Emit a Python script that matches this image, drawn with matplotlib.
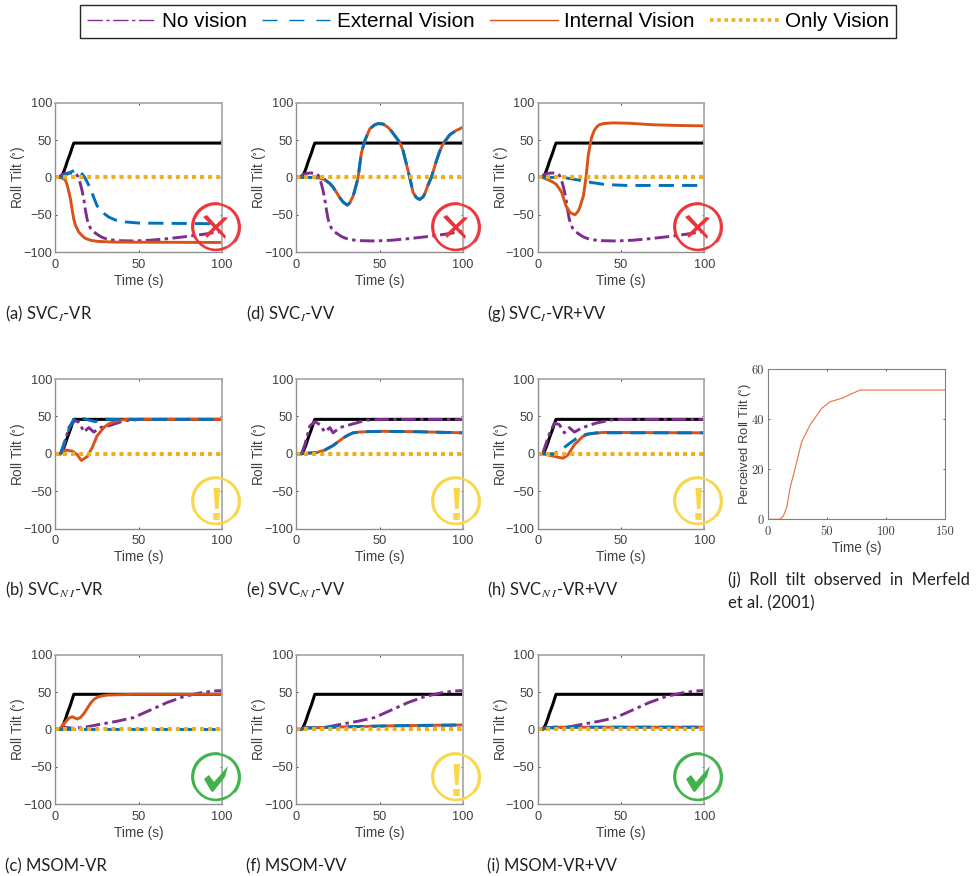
import matplotlib
matplotlib.use('Agg')
import matplotlib.pyplot as plt
from matplotlib.lines import Line2D
from matplotlib.patches import Arc, Polygon

plt.rcParams['font.family'] = ['Liberation Sans', 'DejaVu Sans']
plt.rcParams['mathtext.fontset'] = 'stix'

BLUE, ORANGE, YELLOW, PURPLE = '#0072BD', '#D95319', '#EDB120', '#7E2F8E'
TXT = '#404040'
W, H = 979, 876

# ---------- data ----------
truth_t = [0, 3, 4, 5, 6, 7, 8, 9, 10, 11, 100]
truth_v = [0, 0, 3, 8, 14, 21, 27, 33, 40, 46, 46]
only_t = [0, 100]
only_v = [0, 0]

nv_svci_t = [2, 4, 6, 9, 12, 13, 14, 15, 16, 17, 18, 19, 20, 21, 23, 25, 27, 29, 32, 37, 47, 57, 67, 79, 89, 100]
nv_svci_v = [0, 4, 5.5, 6, 5, 3, -2, -9, -18, -29, -44, -56, -63, -68, -73, -76, -79, -81, -83, -84.5, -85, -84, -82, -79, -76, -72]

a_ext_t = [3, 6, 9, 12, 15, 17, 19, 21, 23, 25, 27, 29, 32, 36, 42, 50, 100]
a_ext_v = [0, 3, 7, 10, 7, 2, -6, -15, -27, -38, -44, -48, -53, -57, -59.5, -61, -62]
a_int_t = [3, 5, 6, 7, 8, 9, 10, 11, 12, 14, 16, 18, 21, 25, 30, 35, 100]
a_int_v = [0, -2, -4, -10, -19, -29, -43, -56, -64, -73, -78, -81.5, -84, -85.5, -86, -86.5, -87]

d_both_t = [3, 10, 14, 17, 20, 22, 24, 26, 28, 30.5, 32, 34, 36, 37, 38, 39, 41, 44, 47, 49, 52, 55, 57, 60, 62, 64, 65, 67, 68, 70, 72, 74, 76, 77, 79, 81, 84, 86, 88, 92, 96, 100]
d_both_v = [0, 0, -1, -3, -8, -13, -20, -27, -33, -37, -34, -25, -9, 0, 17, 33, 49, 65, 70.5, 72, 71.5, 67, 62, 53, 47, 36, 27, 9, 0, -20, -27, -29.5, -26, -22, -10, 0, 22, 35, 45, 57, 63, 67]

g_int_t = [3, 6, 9, 11, 13, 14.4, 16, 17, 19.4, 22.4, 24, 25, 26, 27.4, 28.2, 29, 30.4, 31.5, 32.4, 34, 35.4, 37, 39.4, 45, 55, 69, 85, 100]
g_int_v = [0, -3, -6, -9, -15, -20, -31, -38, -47, -50, -46, -42, -35, -25, -13, 0, 30, 44, 54, 63, 67.5, 70.5, 72, 73, 72.5, 70.5, 69.5, 69]
g_ext_t = [3, 15, 18, 22, 27, 33, 39, 46, 53, 100]
g_ext_v = [0, 0, -1, -2.5, -4.5, -7, -9, -10, -10.7, -10.7]

b_nv_t = [3, 5, 8, 10, 12, 13.5, 15, 17, 20, 23, 27, 33, 41, 51, 100]
b_nv_v = [0, 10, 35, 41, 44, 43, 39, 29, 35, 29, 35, 38, 44, 46, 46]
b_ext_t = [3, 5, 7, 9, 11, 14, 17, 21, 24, 28, 35, 100]
b_ext_v = [0, 13, 26, 38, 46, 49, 47, 44.5, 43, 46.5, 46, 46]
b_int_t = [3, 6, 10, 13, 15.5, 19, 22, 25, 29, 32, 35, 39, 43, 100]
b_int_v = [0, 5, 3.5, -1, -9, -4, 8, 24, 35, 40, 43, 45, 46, 46]

e_nv_t = [3, 5, 8, 11, 14, 17, 20, 22, 26, 34, 42, 52, 100]
e_nv_v = [0, 12, 37, 43, 39, 29, 35, 28, 35, 40, 45, 46, 46]
e_both_t = [3, 8, 12, 17, 22, 25, 28, 31, 34, 38, 42, 52, 72, 100]
e_both_v = [0, 1, 1.5, 5, 11, 16, 21, 25, 28, 29, 29.5, 30, 29.5, 28]

h_nv_t = [3, 6.5, 10, 13, 16, 19, 22, 27, 35, 45, 55, 100]
h_nv_v = [0, 24, 41, 39, 28, 35, 29, 35, 41, 45.5, 46, 46]
h_ext_t = [3, 10, 14, 18, 23, 29, 35, 42, 100]
h_ext_v = [0, 0, 5, 12, 20, 26, 28, 28, 28]
h_int_t = [3, 7, 11, 15, 18, 20, 22, 27, 30, 33, 39, 100]
h_int_v = [0, -2, -4, -6, -2, 5, 12, 23, 26, 27, 28.5, 28]

msom_nv_t = [2.5, 5, 11, 19, 27, 37, 47, 57, 67, 77, 87, 95, 100]
msom_nv_v = [0, 3, 1.5, 3.5, 7, 11, 16, 26, 36, 44, 49, 51.5, 52]
msom_truth_v = [0, 0, 3, 8, 14, 21, 27, 33, 40, 47, 47]
c_ext_t = [3, 100]
c_ext_v = [1, 1]
c_int_t = [2.5, 4, 6, 8, 10, 13, 15, 17, 19, 21, 23, 25, 28, 31, 47, 100]
c_int_v = [0, 5, 10, 15, 17, 14, 16, 21, 28, 35, 40, 43, 45, 46, 47, 47]
f_both_t = [3, 5, 20, 40, 60, 80, 100]
f_both_v = [0, 2, 3, 4, 5, 5.5, 6]
i_both_t = [3, 5, 10, 100]
i_both_v = [0, 2, 3, 3]

j_t = [0, 10, 13, 16, 18.6, 23, 28.5, 35.6, 45.5, 52.5, 62.4, 78, 150]
j_v = [0, 0, 1.3, 5, 12.4, 20.4, 31, 37.7, 44.4, 47, 48.4, 51.7, 51.7]

xticks = [0, 50, 100]
yticks = [-100, -50, 0, 50, 100]
jxticks = [0, 50, 100, 150]
jyticks = [0, 20, 40, 60]

legend_labels = ['No vision', 'External Vision', 'Internal Vision', 'Only Vision']
captions = {
    'a': r'(a) SVC$_{I}$-VR', 'd': r'(d) SVC$_{I}$-VV', 'g': r'(g) SVC$_{I}$-VR+VV',
    'b': r'(b) SVC$_{N\,\,I}$-VR', 'e': r'(e) SVC$_{N\,\,I}$-VV', 'h': r'(h) SVC$_{N\,\,I}$-VR+VV',
    'c': '(c) MSOM-VR', 'f': '(f) MSOM-VV', 'i': '(i) MSOM-VR+VV',
}
panels = {
    'a': ((nv_svci_t, nv_svci_v), (a_ext_t, a_ext_v), (a_int_t, a_int_v), truth_v, 'x'),
    'd': ((nv_svci_t, nv_svci_v), (d_both_t, d_both_v), (d_both_t, d_both_v), truth_v, 'x'),
    'g': ((nv_svci_t, nv_svci_v), (g_ext_t, g_ext_v), (g_int_t, g_int_v), truth_v, 'x'),
    'b': ((b_nv_t, b_nv_v), (b_ext_t, b_ext_v), (b_int_t, b_int_v), truth_v, '!'),
    'e': ((e_nv_t, e_nv_v), (e_both_t, e_both_v), (e_both_t, e_both_v), truth_v, '!'),
    'h': ((h_nv_t, h_nv_v), (h_ext_t, h_ext_v), (h_int_t, h_int_v), truth_v, '!'),
    'c': ((msom_nv_t, msom_nv_v), (c_ext_t, c_ext_v), (c_int_t, c_int_v), msom_truth_v, 'v'),
    'f': ((msom_nv_t, msom_nv_v), (f_both_t, f_both_v), (f_both_t, f_both_v), msom_truth_v, '!'),
    'i': ((msom_nv_t, msom_nv_v), (i_both_t, i_both_v), (i_both_t, i_both_v), msom_truth_v, 'v'),
}

# ---------- layout (pixels) ----------
col_x = {'a': 55.5, 'b': 55.5, 'c': 55.5, 'd': 296.5, 'e': 296.5, 'f': 296.5, 'g': 537.7, 'h': 537.7, 'i': 537.7}
row_y = {'a': 102.7, 'd': 102.7, 'g': 102.7, 'b': 379, 'e': 379, 'h': 379, 'c': 654.7, 'f': 654.7, 'i': 654.7}
AW, AH = 166.5, 149.5
cap_x = {'a': 5, 'b': 5, 'c': 5, 'd': 246, 'e': 246, 'f': 246, 'g': 487, 'h': 487, 'i': 487}
cap_y = {'a': 314, 'd': 314, 'g': 314, 'b': 590, 'e': 590, 'h': 590, 'c': 866, 'f': 866, 'i': 866}

DASH_BLUE = (0, (5.2, 2.8))
DASH_PURPLE = (0, (5, 1.5, 1.2, 1.5))
DOT_YELLOW = (0, (1, 1))

fig = plt.figure(figsize=(W / 100, H / 100), dpi=100)


def make_axes(x, y, w, h):
    return fig.add_axes([x / W, 1 - (y + h) / H, w / W, h / H])


for key, (nv, ext, inn, tv, icon) in panels.items():
    ax = make_axes(col_x[key], row_y[key], AW, AH)
    ax.plot(truth_t, tv, color='black', lw=2.2, solid_capstyle='butt')
    ax.plot(*nv, color=PURPLE, lw=2.1, ls=DASH_PURPLE, dash_capstyle='butt')
    ax.plot(*inn, color=ORANGE, lw=2.1)
    ax.plot(*ext, color=BLUE, lw=2.1, ls=DASH_BLUE, dash_capstyle='butt')
    ax.plot(only_t, only_v, color=YELLOW, lw=2.9, ls=DOT_YELLOW, dash_capstyle='butt')
    ax.set_xlim(0, 100)
    ax.set_ylim(-100, 100)
    ax.set_xticks(xticks)
    ax.set_yticks(yticks)
    ax.tick_params(direction='in', length=1.6, width=0.7, top=True, right=True,
                   labelsize=9.2, colors=TXT)
    ax.tick_params(axis='x', pad=5)
    ax.tick_params(axis='y', pad=2.5)
    for name, s in ax.spines.items():
        s.set_color('#ABABAB' if name in ('right', 'top') else '#8F8F8F')
        s.set_linewidth(1.3 if name in ('right', 'top') else 1.0)
    ax.set_xlabel('Time (s)', fontsize=9.8, color=TXT, labelpad=2.2)
    ax.set_ylabel(r'Roll Tilt ($^{\circ}$)', fontsize=9.8, color=TXT, labelpad=-3)
    fig.text(cap_x[key] / W, 1 - cap_y[key] / H, captions[key], family=['Lato', 'DejaVu Sans'],
             fontsize=12, color='#222222', va='center', ha='left', math_fontfamily='stix')

# panel j
axj = make_axes(768, 369.3, 177, 150)
axj.plot(j_t, j_v, color='#E8703F', lw=0.8)
axj.set_xlim(0, 150)
axj.set_ylim(0, 60)
axj.set_xticks(jxticks)
axj.set_yticks(jyticks)
axj.tick_params(direction='in', length=1.6, width=0.6, top=True, right=True, labelsize=9,
                colors=TXT, labelfontfamily='cmr10')
axj.tick_params(axis='x', pad=5)
axj.tick_params(axis='y', pad=3)
for s in axj.spines.values():
    s.set_color('#808080')
    s.set_linewidth(0.8)
axj.set_xlabel('Time (s)', fontsize=9.8, color=TXT, labelpad=2)
axj.set_ylabel(r'Perceived Roll Tilt ($^{\circ}$)', fontsize=9.4, color=TXT, labelpad=-1)
fig.text(728 / W, 1 - 580 / H, '(j)  Roll  tilt  observed  in  Merfeld', family=['Lato', 'DejaVu Sans'],
         fontsize=12, color='#222222', va='center')
fig.text(728 / W, 1 - 603 / H, 'et al. (2001)', family=['Lato', 'DejaVu Sans'],
         fontsize=12, color='#222222', va='center')

# legend
handles = [
    Line2D([], [], color=PURPLE, lw=1.0, ls=(0, (11, 2.5, 2.5, 2.5))),
    Line2D([], [], color=BLUE, lw=1.0, ls=(0, (10.8, 8.6))),
    Line2D([], [], color=ORANGE, lw=1.0),
    Line2D([], [], color=YELLOW, lw=2.6, ls=(0, (1, 1))),
]
leg = fig.legend(handles, legend_labels, ncol=4, loc='center', bbox_to_anchor=(488 / W, 1 - 21.5 / H),
                 fontsize=14.9, frameon=True, fancybox=False, edgecolor='#262626', framealpha=1,
                 handlelength=3.3, handletextpad=0.3, columnspacing=0.75, borderpad=0.36, borderaxespad=0)
leg.get_frame().set_linewidth(1.0)
for t in leg.get_texts():
    t.set_color('black')

# ---------- verdict icons (overlay in pixel coordinates) ----------
ov = fig.add_axes([0, 0, 1, 1], facecolor='none')
ov.set_xlim(0, W)
ov.set_ylim(H, 0)
ov.axis('off')
ICON_COL = {'x': '#EE3338', '!': '#F8D748', 'v': '#3DB34A'}
ICON_X = {'a': 216, 'b': 216, 'c': 216, 'd': 456, 'e': 456, 'f': 456, 'g': 698, 'h': 698, 'i': 698}
ICON_Y = {'a': 227, 'd': 227, 'g': 227, 'b': 501, 'e': 501, 'h': 501, 'c': 777, 'f': 777, 'i': 777}


def draw_icon(cx, cy, kind):
    col = ICON_COL[kind]
    for dx, dy, r, a0, a1, lw in [(0, 0, 23, 0, 360, 1.8), (0.6, 0.3, 23.6, 300, 40, 1.2),
                                  (-0.5, -0.4, 23.4, 150, 280, 1.5), (-0.8, 0.5, 22.2, 60, 190, 1.2)]:
        ov.add_patch(Arc((cx + dx, cy + dy), 2 * r, 2 * r, theta1=a0, theta2=a1, color=col, lw=lw, alpha=0.95))
    if kind == 'x':
        ov.add_patch(Polygon([(cx - 13, cy - 10), (cx - 9, cy - 12), (cx + 10, cy + 9), (cx + 9, cy + 12)], color=col, lw=0))
        ov.add_patch(Polygon([(cx + 12, cy - 9), (cx + 8, cy - 10), (cx - 11, cy + 8), (cx - 9, cy + 11)], color=col, lw=0))
    elif kind == '!':
        ov.add_patch(Polygon([(cx - 2.5, cy - 13), (cx + 4, cy - 13), (cx + 2.5, cy + 8), (cx - 1, cy + 8)], color=col, lw=0))
        ov.add_patch(Polygon([(cx - 3, cy + 12), (cx + 4, cy + 12), (cx + 3.5, cy + 19), (cx - 2.5, cy + 19)], color=col, lw=0))
    else:
        ov.add_patch(Polygon([(cx - 12, cy + 2), (cx - 7, cy - 2), (cx - 2, cy + 5), (cx + 12, cy - 11),
                              (cx + 9, cy), (cx - 3, cy + 15), (cx - 5, cy + 14)], color=col, lw=0))


for key, val in panels.items():
    draw_icon(ICON_X[key], ICON_Y[key], val[4])

fig.savefig('out.png', dpi=100)
